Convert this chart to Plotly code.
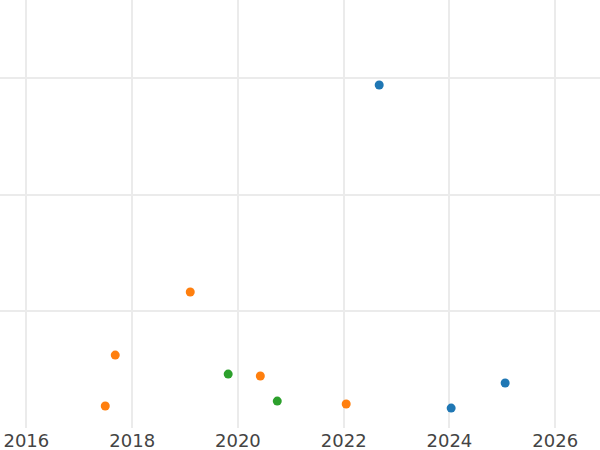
import plotly.graph_objects as go

# points, grouped by colour
blue_dates = ["2022-09-03", "2024-01-13", "2025-01-20"]
blue_values = [294, 16.7, 38.2]

orange_dates = ["2017-06-29", "2017-09-06", "2019-02-06", "2020-06-04", "2022-01-18"]
orange_values = [18.5, 62.2, 116.3, 44.2, 20.2]

green_dates = ["2019-10-26", "2020-09-29"]
green_values = [45.9, 22.7]

x_ticks = ["2016-01-01", "2018-01-01", "2020-01-01", "2022-01-01", "2024-01-01", "2026-01-01"]
x_tick_labels = ["2016", "2018", "2020", "2022", "2024", "2026"]

fig = go.Figure()

for dates, values, color in [
    (blue_dates, blue_values, "#1f77b4"),
    (orange_dates, orange_values, "#ff7f0e"),
    (green_dates, green_values, "#2ca02c"),
]:
    fig.add_trace(go.Scatter(
        x=dates,
        y=values,
        mode="markers",
        marker=dict(color=color, size=9),
        showlegend=False,
    ))

fig.update_layout(
    width=600,
    height=450,
    margin=dict(l=0, r=0, t=0, b=22),
    plot_bgcolor="white",
    paper_bgcolor="white",
    font=dict(family="DejaVu Sans", size=18, color="#444"),
    xaxis=dict(
        type="date",
        range=["2015-07-03", "2026-11-06"],
        tickvals=x_ticks,
        ticktext=x_tick_labels,
        ticklabelstandoff=0,
        automargin=False,
        showgrid=True,
        gridcolor="#ebebeb",
        gridwidth=1.5,
        zeroline=False,
        showline=False,
    ),
    yaxis=dict(
        range=[-0.4, 367],
        tickvals=[100, 200, 300],
        showticklabels=False,
        automargin=False,
        showgrid=True,
        gridcolor="#ebebeb",
        gridwidth=1.5,
        zeroline=False,
        showline=False,
    ),
)

# the page body has an 8px default margin; drop it so the figure fills the window
fig.write_html(
    "out.html",
    config={"displayModeBar": False},
    post_script="document.body.style.margin='0px';",
)
